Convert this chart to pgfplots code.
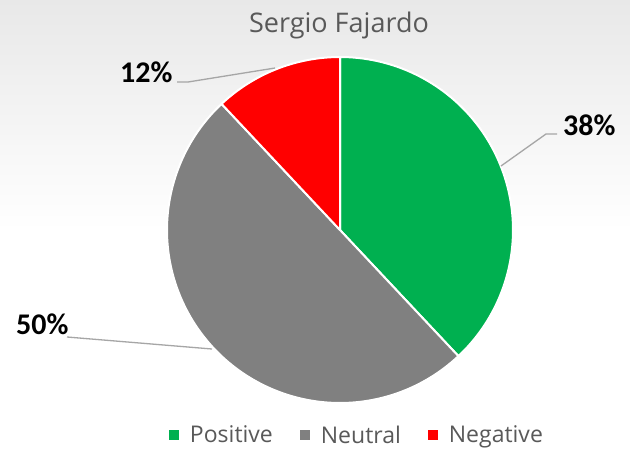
\documentclass[border=0pt]{standalone}
\usepackage{pgfplots}
\pgfplotsset{compat=1.18}
\usepackage{pgfplotstable}
\usepackage{fontspec}
\setmainfont{Open Sans}
\newfontfamily\labelfont{Carlito}
\definecolor{cPos}{HTML}{00B050}
\definecolor{cNeu}{HTML}{808080}
\definecolor{cNeg}{HTML}{FF0000}
\definecolor{txt}{HTML}{595959}
\definecolor{lead}{HTML}{A6A6A6}

\pgfplotstableread{
label share
Positive 38
Neutral 50
Negative 12
}\piedata

\begin{document}
\begin{tikzpicture}
\pgfplotstablegetelem{0}{share}\of\piedata \let\sPos\pgfplotsretval
\pgfplotstablegetelem{1}{share}\of\piedata \let\sNeu\pgfplotsretval
\pgfplotstablegetelem{2}{share}\of\piedata \let\sNeg\pgfplotsretval
% como no Excel: comeca as 12 horas e anda no sentido dos ponteiros
\pgfmathsetmacro\aA{90}
\pgfmathsetmacro\aB{\aA-3.6*\sPos}
\pgfmathsetmacro\aC{\aB-3.6*\sNeu}
\pgfmathsetmacro\aD{\aC-3.6*\sNeg}
\begin{axis}[
  % coordenadas em pixeis da imagem de referencia (y para baixo)
  width=630pt, height=451pt, scale only axis,
  xmin=0, xmax=630, ymin=0, ymax=451, y dir=reverse,
  hide axis, clip=false,
  legend style={at={(0.565,0.035)}, anchor=center, draw=none, fill=none,
    legend columns=-1, font=\fontsize{23}{27}\selectfont, text=txt,
    nodes={inner sep=0pt},
    /tikz/every odd column/.append style={column sep=11pt},
    /tikz/every even column/.append style={column sep=27pt}},
  legend image code/.code={\fill[#1, draw=none] (0pt,-5pt) rectangle (10pt,5pt);},
  ]
  \fill[white] (axis cs:0,0) rectangle (axis cs:630,451);
  \shade[top color=black!9, bottom color=white] (axis cs:0,0) rectangle (axis cs:630,230);

  \addplot[fill=cPos, draw=white, line width=2pt, line join=round,
           domain=\aB:\aA, samples=90, variable=\t]
    ({340+173*cos(\t)},{230-173*sin(\t)}) -- (axis cs:340,230) -- cycle;
  \addlegendentry{Positive}
  \addplot[fill=cNeu, draw=white, line width=2pt, line join=round,
           domain=\aC:\aB, samples=120, variable=\t]
    ({340+173*cos(\t)},{230-173*sin(\t)}) -- (axis cs:340,230) -- cycle;
  \addlegendentry{Neutral}
  \addplot[fill=cNeg, draw=white, line width=2pt, line join=round,
           domain=\aD:\aC, samples=40, variable=\t]
    ({340+173*cos(\t)},{230-173*sin(\t)}) -- (axis cs:340,230) -- cycle;
  \addlegendentry{Negative}

  % linhas de chamada
  \draw[lead, line width=1.3pt] (axis cs:501,166) -- (axis cs:546,134) -- (axis cs:557,134);
  \draw[lead, line width=1.3pt] (axis cs:177,82) -- (axis cs:188,82) -- (axis cs:275,68);
  \draw[lead, line width=1.3pt] (axis cs:67,337) -- (axis cs:212,349);

  \node[anchor=base west, inner sep=0pt, font=\labelfont\bfseries\fontsize{30}{34}\selectfont]
    at (axis cs:563,135) {38\%};
  \node[anchor=base west, inner sep=0pt, font=\labelfont\bfseries\fontsize{30}{34}\selectfont]
    at (axis cs:120,82) {12\%};
  \node[anchor=base west, inner sep=0pt, font=\labelfont\bfseries\fontsize{30}{34}\selectfont]
    at (axis cs:16,334) {50\%};

  \node[anchor=base, inner sep=0pt, text=txt, font=\fontsize{27}{31}\selectfont]
    at (axis cs:339,32) {Sergio Fajardo};
\end{axis}
\end{tikzpicture}
\end{document}
